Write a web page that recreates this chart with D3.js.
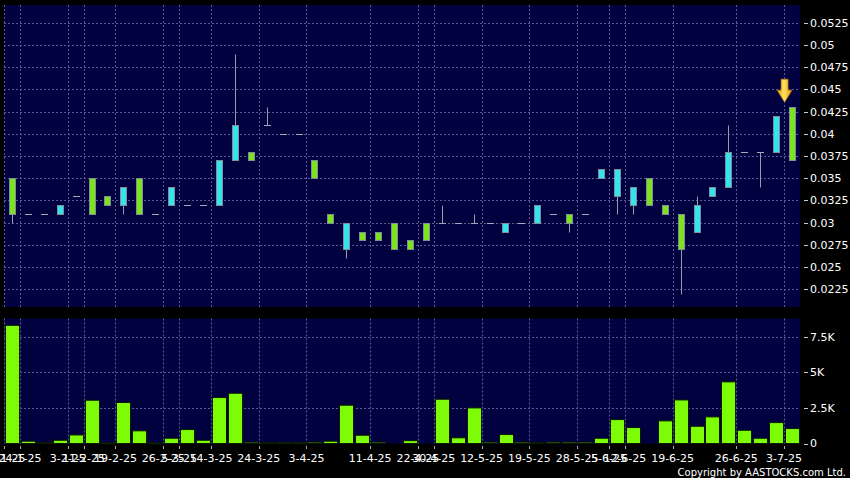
<!DOCTYPE html>
<html><head><meta charset="utf-8">
<script src="https://cdn.jsdelivr.net/npm/d3@7"></script>
<style>html,body{margin:0;padding:0;background:#000;} svg{display:block;}</style>
</head><body>
<svg id="c" width="850" height="478"></svg>
<script>
// ---- data ----
const dates = ["23-1-25","24-1-25","27-1-25","28-1-25","3-2-25","11-2-25","13-2-25","19-2-25","20-2-25","24-2-25",
  "26-2-25","5-3-25","10-3-25","14-3-25","18-3-25","20-3-25","24-3-25","26-3-25","28-3-25","3-4-25",
  "7-4-25","8-4-25","9-4-25","11-4-25","15-4-25","17-4-25","22-4-25","30-4-25","6-5-25","8-5-25",
  "12-5-25","14-5-25","16-5-25","19-5-25","21-5-25","23-5-25","28-5-25","3-6-25","5-6-25","12-6-25",
  "13-6-25","17-6-25","19-6-25","20-6-25","23-6-25","24-6-25","26-6-25","27-6-25","30-6-25","3-7-25"];
const opens  = [0.035,0.031,0.031,0.031,0.033,0.035,0.033,0.032,0.035,0.031,
  0.032,0.032,0.032,0.032,0.037,0.038,0.041,0.040,0.040,0.037,
  0.031,0.027,0.029,0.029,0.030,0.028,0.030,0.030,0.030,0.030,
  0.030,0.029,0.030,0.030,0.031,0.031,0.031,0.035,0.033,0.032,
  0.035,0.032,0.031,0.029,0.033,0.034,0.038,0.038,0.038,0.043];
const highs  = [0.035,0.031,0.031,0.032,0.033,0.035,0.033,0.034,0.035,0.031,
  0.034,0.032,0.032,0.037,0.049,0.038,0.043,0.040,0.040,0.037,
  0.031,0.030,0.029,0.029,0.030,0.028,0.030,0.032,0.030,0.031,
  0.030,0.030,0.030,0.032,0.031,0.031,0.031,0.036,0.036,0.034,
  0.035,0.032,0.031,0.033,0.034,0.041,0.038,0.038,0.042,0.043];
const lows   = [0.030,0.031,0.031,0.031,0.033,0.031,0.032,0.031,0.031,0.031,
  0.032,0.032,0.032,0.032,0.037,0.037,0.041,0.040,0.040,0.035,
  0.030,0.026,0.028,0.028,0.027,0.027,0.028,0.030,0.030,0.030,
  0.030,0.029,0.030,0.030,0.031,0.029,0.031,0.035,0.031,0.031,
  0.032,0.031,0.022,0.029,0.033,0.034,0.038,0.034,0.038,0.037];
const closes = [0.031,0.031,0.031,0.032,0.033,0.031,0.032,0.034,0.031,0.031,
  0.034,0.032,0.032,0.037,0.041,0.037,0.041,0.040,0.040,0.035,
  0.030,0.030,0.028,0.028,0.027,0.027,0.028,0.030,0.030,0.030,
  0.030,0.030,0.030,0.032,0.031,0.030,0.031,0.036,0.036,0.034,
  0.032,0.031,0.027,0.032,0.034,0.038,0.038,0.038,0.042,0.037];
const volumes = [8300,160,70,230,600,3040,40,2880,890,40,
  370,980,230,3230,3530,90,70,60,50,90,
  160,2690,580,90,0,200,0,3110,400,2500,
  90,630,90,70,90,90,90,370,1680,1120,
  0,1590,3060,1210,1870,4330,930,370,1470,1050];
const labelDates = ["23-1-25","24-1-25","3-2-25","11-2-25","19-2-25","26-2-25","5-3-25","14-3-25","24-3-25","3-4-25",
  "11-4-25","22-4-25","30-4-25","12-5-25","19-5-25","28-5-25","5-6-25","12-6-25","19-6-25","26-6-25","3-7-25"];
const priceTicks = [0.0225,0.025,0.0275,0.03,0.0325,0.035,0.0375,0.04,0.0425,0.045,0.0475,0.05,0.0525];
const volumeTicks = [0,2500,5000,7500];
const volumeTickLabels = ["0","2.5K","5K","7.5K"];
const copyright = "Copyright by AASTOCKS.com Ltd.";

// ---- layout ----
const L = 4, R = 800, pTop = 5, pBot = 307, vTop = 318.5, vBot = 443.5;
const panelFill = "#010140", gridCol = "#5a5a96";
const upFill = "#35e3ef", downFill = "#7de31e", edgeCol = "#7f8c99", wickCol = "#9a9aae";
const volFill = "#7efb07";
const font = "DejaVu Sans, Verdana, sans-serif";

const svg = d3.select("#c");
svg.append("rect").attr("width", 850).attr("height", 478).attr("fill", "#000");

const x = d3.scaleBand().domain(dates).range([L, R]).padding(0);
const y = d3.scaleLinear().domain([0.0205, 0.0545]).range([pBot, pTop]);
const yv = d3.scaleLinear().domain([0, 8780]).range([vBot, vTop]);
const bw = x.bandwidth();
const cx = d => Math.round(x(d) + bw / 2) + 0.5;
const gx = d => Math.round(x(d)) + 0.5;
const ry = v => Math.round(v) + 0.5;

// panels
svg.append("rect").attr("x", L).attr("y", pTop).attr("width", R - L).attr("height", pBot - pTop).attr("fill", panelFill);
svg.append("rect").attr("x", L).attr("y", vTop).attr("width", R - L).attr("height", vBot - vTop).attr("fill", panelFill);

const grid = svg.append("g").attr("stroke", gridCol).attr("stroke-width", 1).attr("stroke-dasharray", "2,2").attr("fill", "none");
grid.selectAll("line.ph").data(priceTicks).join("line").attr("class", "ph")
  .attr("x1", L).attr("x2", R).attr("y1", d => ry(y(d))).attr("y2", d => ry(y(d)));
grid.selectAll("line.vh").data(volumeTicks.slice(1)).join("line").attr("class", "vh")
  .attr("x1", L).attr("x2", R).attr("y1", d => ry(yv(d))).attr("y2", d => ry(yv(d)));
grid.selectAll("line.pv").data(labelDates).join("line").attr("class", "pv")
  .attr("x1", gx).attr("x2", gx).attr("y1", pTop).attr("y2", pBot);
grid.selectAll("line.vv").data(labelDates).join("line").attr("class", "vv")
  .attr("x1", gx).attr("x2", gx).attr("y1", vTop).attr("y2", vBot);

// volume bars
svg.append("g").selectAll("rect").data(dates.map((d, i) => ({ d, v: volumes[i] })).filter(o => o.v > 0)).join("rect")
  .attr("x", o => Math.round(x(o.d)) + 1.5).attr("width", Math.round(bw) - 2)
  .attr("y", o => yv(o.v)).attr("height", o => Math.max(1, yv(0) - yv(o.v)))
  .attr("fill", volFill).attr("stroke", "#0a1a00").attr("stroke-width", 1);

// candles
const candles = svg.append("g");
dates.forEach((d, i) => {
  const o = opens[i], h = highs[i], l = lows[i], c = closes[i];
  const xc = cx(d);
  if (h !== l) {
    candles.append("line").attr("x1", xc).attr("x2", xc).attr("y1", ry(y(h))).attr("y2", ry(y(l)))
      .attr("stroke", wickCol).attr("stroke-width", 1);
  }
  if (o === c) {
    candles.append("line").attr("x1", xc - 3.5).attr("x2", xc + 3.5).attr("y1", ry(y(o))).attr("y2", ry(y(o)))
      .attr("stroke", "#a8a8bc").attr("stroke-width", 1);
  } else {
    const top = Math.round(y(Math.max(o, c))), bot = Math.round(y(Math.min(o, c)));
    candles.append("rect").attr("x", xc - 3).attr("width", 6).attr("y", top + 0.5).attr("height", bot - top)
      .attr("fill", c > o ? upFill : downFill).attr("stroke", edgeCol).attr("stroke-width", 1);
  }
});

// arrow marker above the last candle
const last = dates[dates.length - 1];
const ax = x(last) + 0.5, aBot = y(highs[highs.length - 1]) - 5;
const defs = svg.append("defs");
const grad = defs.append("linearGradient").attr("id", "ag").attr("x1", 0).attr("x2", 1).attr("y1", 0).attr("y2", 0);
grad.append("stop").attr("offset", "0%").attr("stop-color", "#e39a10");
grad.append("stop").attr("offset", "45%").attr("stop-color", "#ffe060");
grad.append("stop").attr("offset", "100%").attr("stop-color", "#e39a10");
svg.append("path")
  .attr("d", `M${ax - 3.5},${aBot - 23} L${ax + 3.5},${aBot - 23} L${ax + 3.5},${aBot - 12} L${ax + 7.5},${aBot - 12} L${ax},${aBot} L${ax - 7.5},${aBot - 12} L${ax - 3.5},${aBot - 12} Z`)
  .attr("fill", "url(#ag)").attr("stroke", "#b87a00").attr("stroke-width", 0.6);

// right axes
const axG = svg.append("g").attr("font-family", font).attr("font-size", 11).attr("fill", "#fff");
axG.selectAll("line.pt").data(priceTicks).join("line").attr("class", "pt")
  .attr("x1", 804).attr("x2", 808).attr("y1", d => ry(y(d))).attr("y2", d => ry(y(d))).attr("stroke", "#ccc");
axG.selectAll("text.pl").data(priceTicks).join("text").attr("class", "pl")
  .attr("x", 810).attr("y", d => y(d)).attr("dy", "0.36em").text(d => String(d));
axG.selectAll("line.vt").data(volumeTicks).join("line").attr("class", "vt")
  .attr("x1", 804).attr("x2", 808).attr("y1", d => ry(yv(d))).attr("y2", d => ry(yv(d))).attr("stroke", "#ccc");
axG.selectAll("text.vl").data(volumeTicks).join("text").attr("class", "vl")
  .attr("x", 810).attr("y", d => yv(d)).attr("dy", "0.36em").text((d, i) => volumeTickLabels[i]);

// bottom date axis
axG.selectAll("line.xt").data(labelDates).join("line").attr("class", "xt")
  .attr("x1", gx).attr("x2", gx).attr("y1", 446).attr("y2", 449).attr("stroke", "#aaa");
axG.selectAll("text.xl").data(labelDates).join("text").attr("class", "xl")
  .attr("x", d => x(d)).attr("y", 462).attr("text-anchor", "middle").text(d => d);

svg.append("text").attr("x", 846).attr("y", 475.5).attr("text-anchor", "end")
  .attr("font-family", font).attr("font-size", 10).attr("fill", "#fff").text(copyright);
</script>
</body></html>
